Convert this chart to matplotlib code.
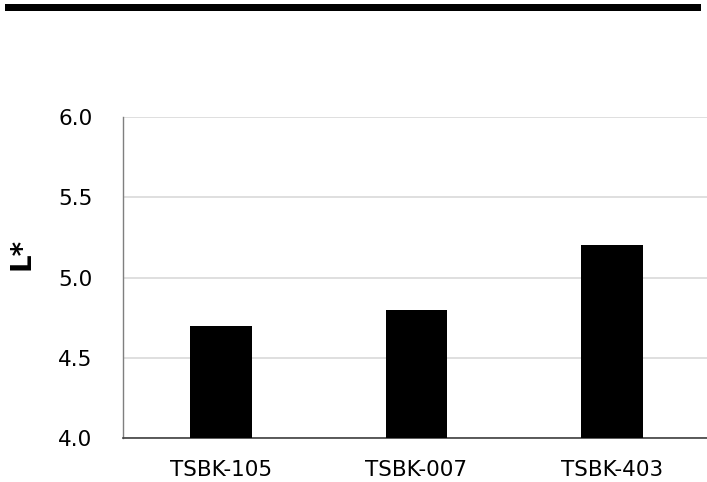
import matplotlib
matplotlib.use("Agg")
import matplotlib.pyplot as plt
from matplotlib.patches import Rectangle

categories = ["TSBK-105", "TSBK-007", "TSBK-403"]
values = [4.7, 4.8, 5.2]
yticks = [4.0, 4.5, 5.0, 5.5, 6.0]
ylabel = "L*"

W, H = 707, 482
fig = plt.figure(figsize=(W / 100, H / 100), dpi=100)
ax = fig.add_axes([123 / W, 1 - 438 / H, (710 - 123) / W, (438 - 117) / H])

x = range(len(categories))
ax.bar(x, values, width=0.314, color="black", zorder=3)
ax.set_xlim(-0.5, len(categories) - 0.5)
ax.set_ylim(4.0, 6.0)
ax.set_yticks(yticks)
ax.set_yticklabels([f"{v:.1f}" for v in yticks])
ax.set_xticks(list(x))
ax.set_xticklabels(categories)

ax.grid(axis="y", color="#d9d9d9", linewidth=1.2, zorder=0)
ax.tick_params(axis="both", length=0, labelsize=15.5, colors="black")
ax.tick_params(axis="y", pad=22)
ax.tick_params(axis="x", pad=16)
for side in ["top", "right"]:
    ax.spines[side].set_visible(False)
ax.spines["left"].set_color("#7f7f7f")
ax.spines["left"].set_linewidth(1.0)
ax.spines["bottom"].set_color("#404040")
ax.spines["bottom"].set_linewidth(1.2)

ax.set_ylabel(ylabel, fontsize=20, fontweight="bold", rotation=90,
              va="center", ha="center")
ax.yaxis.set_label_coords((21 - 123) / (710 - 123), (438 - 254) / (438 - 117))

fig.add_artist(Rectangle((5 / W, 1 - 11 / H), (701 - 5) / W, 7 / H,
                         transform=fig.transFigure, color="black", lw=0))

fig.savefig("out.png", dpi=100)
